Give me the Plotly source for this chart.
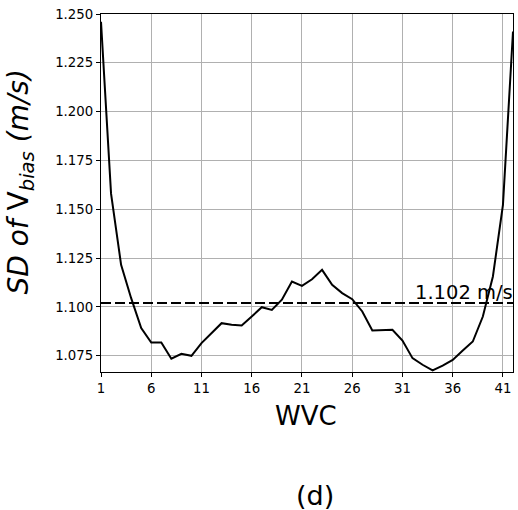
import plotly.graph_objects as go

wvc = list(range(1, 43))
sd_vbias = [1.246, 1.158, 1.1216, 1.1045, 1.0892, 1.0818, 1.0818, 1.0735, 1.0760, 1.0750,
            1.0815, 1.0866, 1.0917, 1.0909, 1.0905, 1.0951, 1.0999, 1.0985, 1.1037, 1.1130,
            1.1108, 1.1142, 1.1190, 1.1113, 1.1071, 1.1040, 1.0977, 1.0880, 1.0883, 1.0883,
            1.0828, 1.0738, 1.0704, 1.0675, 1.0700, 1.0729, 1.0777, 1.0823, 1.0951, 1.1156,
            1.1523, 1.2410]
mean_value = 1.102
x_ticks = [1, 6, 11, 16, 21, 26, 31, 36, 41]
y_ticks = [1.075, 1.100, 1.125, 1.150, 1.175, 1.200, 1.225, 1.250]
y_tick_labels = ["1.075", "1.100", "1.125", "1.150", "1.175", "1.200", "1.225", "1.250"]

FONT = "DejaVu Sans"

fig = go.Figure()
fig.add_trace(go.Scatter(x=wvc, y=sd_vbias, mode="lines",
                         line=dict(color="black", width=2), showlegend=False))
fig.add_trace(go.Scatter(x=[wvc[0], wvc[-1]], y=[mean_value, mean_value], mode="lines",
                         line=dict(color="black", width=2, dash="10px,4px"), showlegend=False))

fig.add_annotation(x=32.0, y=1.1075, xref="x", yref="y", text=f"{mean_value:.3f} m/s",
                   showarrow=False, xanchor="left", yanchor="middle",
                   font=dict(family=FONT, size=19.5, color="black"))
fig.add_annotation(x=0.498, y=-0.123, xref="paper", yref="paper", text="WVC",
                   showarrow=False, xanchor="center", yanchor="middle",
                   font=dict(family=FONT, size=26, color="black"))
fig.add_annotation(x=-0.195, y=0.531, xref="paper", yref="paper",
                   text="<i>SD of </i>V<sub><i>bias</i></sub><i> (m/s)</i>",
                   textangle=-90, showarrow=False, xanchor="center", yanchor="middle",
                   font=dict(family=FONT, size=28, color="black"))
fig.add_annotation(x=0.519, y=-0.344, xref="paper", yref="paper", text="(d)",
                   showarrow=False, xanchor="center", yanchor="middle",
                   font=dict(family=FONT, size=27, color="black"))

axis_common = dict(showline=True, linecolor="black", linewidth=1.2, mirror=True,
                   showgrid=True, gridcolor="#b0b0b0", gridwidth=1,
                   ticks="outside", ticklen=4, tickcolor="black",
                   tickfont=dict(family=FONT, size=13.3, color="black"), zeroline=False)

fig.update_xaxes(range=[1, 42], tickvals=x_ticks, **axis_common)
fig.update_yaxes(range=[1.0667, 1.25], tickvals=y_ticks, ticktext=y_tick_labels, **axis_common)

fig.update_layout(width=518, height=510, margin=dict(l=101, r=5, t=14, b=138),
                  paper_bgcolor="white", plot_bgcolor="white",
                  font=dict(family=FONT, color="black"))

fig.write_html("out.html", config={"displayModeBar": False},
               post_script="document.body.style.margin='0';document.body.style.overflow='hidden';")
